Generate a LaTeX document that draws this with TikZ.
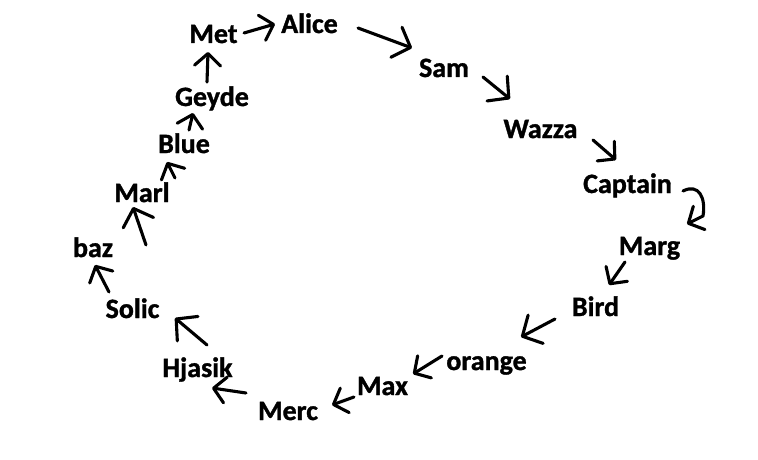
\documentclass[tikz,border=0pt]{standalone}
\usepackage{fontspec}
\setmainfont{Carlito}[BoldFeatures={FakeBold=1.2}]
\usetikzlibrary{arrows.meta,calc}
\tikzset{
  lbl/.style={anchor=base, inner sep=0pt, font=\bfseries\fontsize{28}{30}\selectfont},
  conn/.style={line width=3.1pt, line cap=round, line join=round,
    -{Straight Barb[length=12pt,width=26pt,line cap=round,line join=round]}},
  bigconn/.style={conn, -{Straight Barb[length=15pt,width=32pt,line cap=round,line join=round]}}
}
\begin{document}
\begin{tikzpicture}[x=1pt,y=-1pt]
\useasboundingbox (0,0) rectangle (758,460);
\node[lbl] (met) at (213.5,43) {Met};
\node[lbl] (alice) at (309.5,33) {Alice};
\node[lbl] (sam) at (444,77) {Sam};
\node[lbl] (wazza) at (540.5,138) {Wazza};
\node[lbl] (captain) at (627.5,193) {Captain};
\node[lbl] (marg) at (649.5,255) {Marg};
\node[lbl] (bird) at (595.5,316) {Bird};
\node[lbl] (orange) at (486.5,370) {orange};
\node[lbl] (max) at (382.5,395) {Max};
\node[lbl] (merc) at (288,420) {Merc};
\node[lbl] (hjasik) at (197.5,377) {Hjasik};
\node[lbl] (solic) at (132.5,318) {Solic};
\node[lbl] (baz) at (93,257) {baz};
\node[lbl] (marl) at (142,202) {Marl};
\node[lbl] (blue) at (184,153) {Blue};
\node[lbl] (geyde) at (212,106) {Geyde};

\draw[conn] ($(met.base)+(30.5,-10)$) -- ($(alice.base)+(-34.5,-9)$);
\draw[bigconn] ($(alice.base)+(48.5,-5)$) -- ($(sam.base)+(-32,-29)$);
\draw[bigconn] ($(sam.base)+(39,0)$) -- ($(wazza.base)+(-30.5,-39)$);
\draw[conn] ($(wazza.base)+(52.5,2)$) -- ($(captain.base)+(-11.5,-33)$);
\draw[conn] ($(captain.base)+(55.5,-2)$) .. controls ($(captain.base)+(71.5,-10)$) and ($(captain.base)+(78.5,5)$) .. ($(captain.base)+(75.5,23)$) -- ($(marg.base)+(37.5,-31)$);
\draw[conn] ($(marg.base)+(-24.5,7)$) -- ($(bird.base)+(13.5,-31)$);
\draw[bigconn] ($(bird.base)+(-40.5,3)$) -- ($(orange.base)+(34.5,-33)$);
\draw[conn] ($(orange.base)+(-44.5,-14)$) -- ($(max.base)+(30.5,-21)$);
\draw[conn] ($(max.base)+(-28.5,2)$) -- ($(merc.base)+(44,-15)$);
\draw[conn] ($(merc.base)+(-42,-27)$) -- ($(hjasik.base)+(14.5,11)$);
\draw[bigconn] ($(hjasik.base)+(9.5,-32)$) -- ($(solic.base)+(42.5,0)$);
\draw[conn] ($(solic.base)+(-23.5,-26)$) -- ($(baz.base)+(2,8)$);
\draw[bigconn] ($(baz.base)+(53,-12)$) -- ($(marl.base)+(-9,5)$);
\draw[conn] ($(marl.base)+(33,-24)$) -- ($(blue.base)+(-17,9)$);
\draw[conn] ($(blue.base)+(5,-23)$) -- ($(geyde.base)+(-19,7)$);
\draw[conn] ($(geyde.base)+(-5,-24)$) -- ($(met.base)+(-5.5,9)$);
\end{tikzpicture}
\end{document}
